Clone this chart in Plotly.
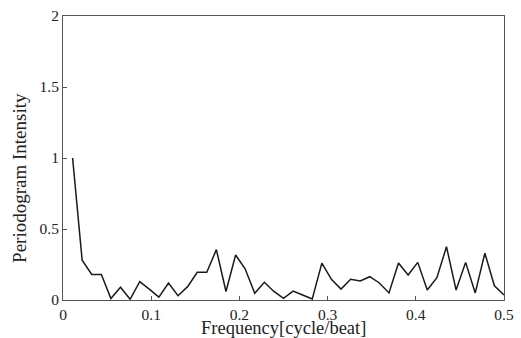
import plotly.graph_objects as go

# Frequency (cycle/beat), 46 points spanning 0 - 0.5
freq = [0.0109, 0.0217, 0.0326, 0.0435, 0.0543, 0.0652, 0.0761, 0.0870, 0.0978, 0.1087,
        0.1196, 0.1304, 0.1413, 0.1522, 0.1630, 0.1739, 0.1848, 0.1957, 0.2065, 0.2174,
        0.2283, 0.2391, 0.2500, 0.2609, 0.2717, 0.2826, 0.2935, 0.3043, 0.3152, 0.3261,
        0.3370, 0.3478, 0.3587, 0.3696, 0.3804, 0.3913, 0.4022, 0.4130, 0.4239, 0.4348,
        0.4457, 0.4565, 0.4674, 0.4783, 0.4891, 0.5000]

intensity = [1.00, 0.28, 0.18, 0.18, 0.01, 0.09, 0.005, 0.13, 0.077, 0.02,
             0.12, 0.03, 0.094, 0.195, 0.195, 0.355, 0.06, 0.317, 0.22, 0.047,
             0.125, 0.06, 0.012, 0.063, 0.035, 0.007, 0.26, 0.146, 0.077, 0.146,
             0.134, 0.164, 0.12, 0.05, 0.26, 0.176, 0.265, 0.07, 0.157, 0.375,
             0.07, 0.265, 0.05, 0.33, 0.10, 0.035]

x_ticks = [0, 0.1, 0.2, 0.3, 0.4, 0.5]
x_tick_labels = ["0", "0.1", "0.2", "0.3", "0.4", "0.5"]
y_ticks = [0, 0.5, 1, 1.5, 2]
y_tick_labels = ["0", "0.5", "1", "1.5", "2"]
x_title = "Frequency[cycle/beat]"
y_title = "Periodogram Intensity"

font_family = "Liberation Serif, Times New Roman, serif"

fig = go.Figure()
fig.add_trace(go.Scatter(x=freq, y=intensity, mode="lines",
                         line=dict(color="#1a1a1a", width=1.5),
                         showlegend=False))

fig.update_layout(
    width=521, height=338,
    margin=dict(l=63, r=17, t=16, b=38),
    paper_bgcolor="white", plot_bgcolor="white",
    font=dict(family=font_family, size=15.5, color="#222222"),
    xaxis=dict(range=[0, 0.5], tickvals=x_ticks, ticktext=x_tick_labels,
               ticks="inside", ticklen=4, tickcolor="#555555",
               ticklabelstandoff=0, automargin=False,
               showline=True, linecolor="#555555", linewidth=1, mirror=True,
               showgrid=False, zeroline=False),
    yaxis=dict(range=[0, 2], tickvals=y_ticks, ticktext=y_tick_labels,
               ticks="inside", ticklen=4, tickcolor="#555555",
               automargin=False,
               showline=True, linecolor="#555555", linewidth=1, mirror=True,
               showgrid=False, zeroline=False),
    annotations=[
        dict(text=x_title, xref="paper", yref="paper", x=0.5, y=-0.1,
             xanchor="center", yanchor="middle", showarrow=False,
             font=dict(family=font_family, size=18.5, color="#222222")),
        dict(text=y_title, xref="paper", yref="paper", x=-0.0975, y=0.43,
             xanchor="center", yanchor="middle", showarrow=False, textangle=-90,
             font=dict(family=font_family, size=19, color="#222222")),
    ],
)

fig.write_html("out.html")
